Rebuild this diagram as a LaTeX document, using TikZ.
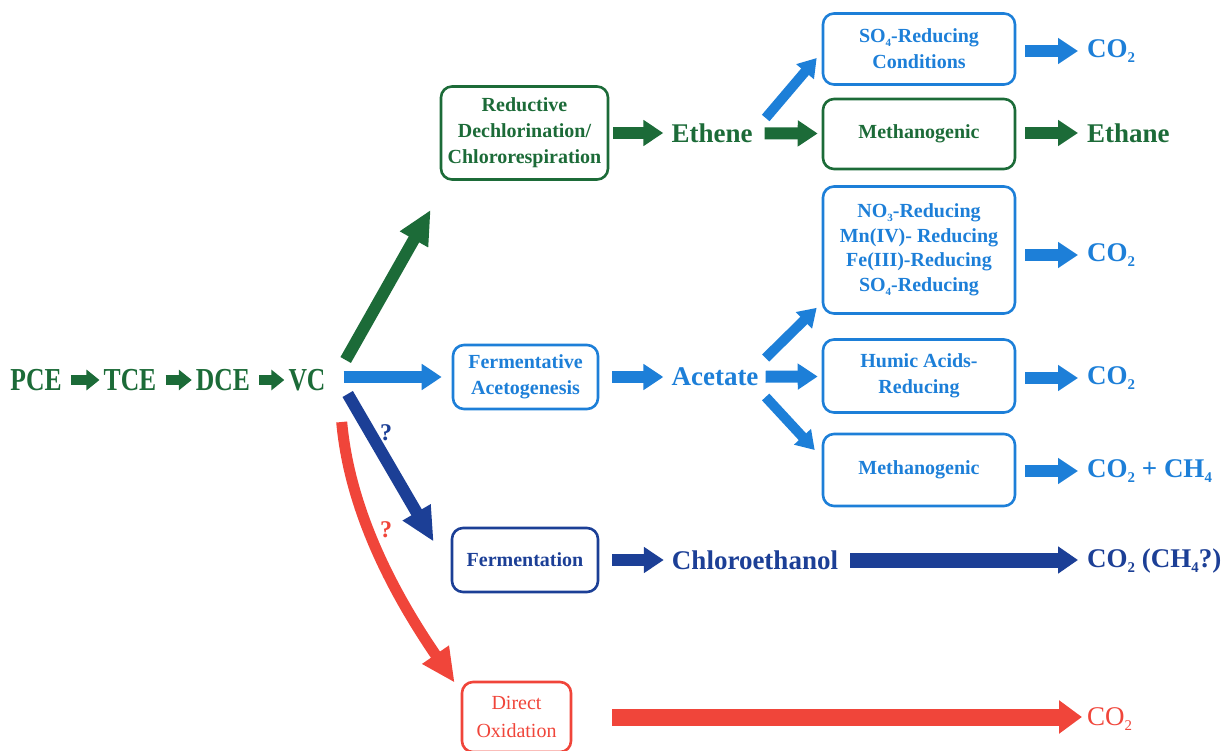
\documentclass[tikz,border=0pt]{standalone}
\usepackage{fontspec}
\setmainfont{Liberation Serif}
\newfontfamily\chainfont[FakeStretch=0.8]{Liberation Serif}
\usetikzlibrary{arrows.meta}
\definecolor{dgreen}{HTML}{1C6B38}
\definecolor{mblue}{HTML}{1D7FD8}
\definecolor{navyb}{HTML}{1C3F96}
\definecolor{oxred}{HTML}{F0453A}
\newcommand\chemsub[1]{\raisebox{-0.4ex}{\scalebox{0.55}{#1}}}
\tikzset{
  procbox/.style={draw,line width=2.6pt,rounded corners=11pt,align=center,inner sep=0pt,font=\bfseries\fontsize{20}{26}\selectfont},
  chem/.style={inner sep=0pt,font=\bfseries\fontsize{27}{30}\selectfont},
  chainlbl/.style={inner sep=0pt,text=dgreen,font=\chainfont\bfseries\fontsize{32}{34}\selectfont},
  qmark/.style={inner sep=0pt,font=\bfseries\fontsize{24}{26}\selectfont},
  tinyarr/.style={line width=10pt,-{Triangle[length=13pt,width=20pt]}},
  midarr/.style={line width=12pt,-{Triangle[length=20pt,width=25pt]}},
  slimarr/.style={line width=10pt,-{Triangle[length=18pt,width=22pt]}},
  vcarr/.style={line width=12pt,-{Triangle[length=34pt,width=30pt]}},
  longarr/.style={line width=15pt,-{Triangle[length=20pt,width=26pt]}},
}
\begin{document}
\begin{tikzpicture}[x=1pt,y=-1pt]
  \useasboundingbox (0,0) rectangle (1221,751);
  \node[chainlbl] (pce) at (36,380) {PCE};
  \node[chainlbl] (tce) at (130,380) {TCE};
  \node[chainlbl] (dce) at (223,380) {DCE};
  \node[chainlbl] (vc) at (307,380) {VC};
  \foreach \a/\b in {pce/tce,tce/dce,dce/vc}
    \draw[tinyarr,dgreen,shorten <=9pt,shorten >=4pt] (\a) -- (\b);

  \node[procbox,dgreen,minimum width=167pt,minimum height=93pt] (reduct) at (524.5,133) {Reductive\\Dechlorination/\\Chlororespiration};
  \node[procbox,mblue,minimum width=145pt,minimum height=64pt] (fa) at (525.5,377) {Fermentative\\Acetogenesis};
  \node[procbox,navyb,minimum width=146pt,minimum height=64pt] (ferm) at (525,560) {Fermentation};
  \node[procbox,oxred,minimum width=109pt,minimum height=70pt,font=\fontsize{20}{28}\selectfont] (oxid) at (516.5,717) {Direct\\Oxidation};

  \node[chem,dgreen] (ethene) at (712,133) {Ethene};
  \node[chem,mblue] (acetate) at (715,377) {Acetate};
  \node[chem,navyb] (chloro) at (755,560) {Chloroethanol};

  \node[procbox,mblue,minimum width=192pt,minimum height=71pt] (so4c) at (919,49) {SO\chemsub{4}-Reducing\\Conditions};
  \node[procbox,dgreen,minimum width=192pt,minimum height=70pt] (methg) at (919,134) {Methanogenic};
  \node[procbox,mblue,minimum width=192pt,minimum height=127pt,font=\bfseries\fontsize{20}{24.5}\selectfont] (multi) at (919,250) {NO\chemsub{3}-Reducing\\Mn(IV)- Reducing\\Fe(III)-Reducing\\SO\chemsub{4}-Reducing};
  \node[procbox,mblue,minimum width=192pt,minimum height=73pt] (humic) at (919,376) {Humic Acids-\\Reducing};
  \node[procbox,mblue,minimum width=192pt,minimum height=72pt] (methb) at (919,470) {Methanogenic};

  \node[chem,mblue,anchor=west] (co2a) at (1087,51) {CO\chemsub{2}};
  \node[chem,dgreen,anchor=west] (ethane) at (1087,133) {Ethane};
  \node[chem,mblue,anchor=west] (co2b) at (1087,255) {CO\chemsub{2}};
  \node[chem,mblue,anchor=west] (co2c) at (1087,378) {CO\chemsub{2}};
  \node[chem,mblue,anchor=west] (co2d) at (1087,471) {CO\chemsub{2} + CH\chemsub{4}};
  \node[chem,navyb,anchor=west] (co2e) at (1087,561) {CO\chemsub{2} (CH\chemsub{4}?)};
  \node[chem,oxred,anchor=west,font=\fontsize{27}{30}\selectfont] (co2f) at (1087,719) {CO\chemsub{2}};

  \node[qmark,navyb] (qnavy) at (386,433) {?};
  \node[qmark,oxred] (qred) at (386,530) {?};

  \draw[vcarr,dgreen] ([xshift=20pt,yshift=20pt]vc.east) -- ([xshift=-9pt,yshift=-29pt]reduct.south west);
  \draw[midarr,mblue] ([xshift=18pt,yshift=3pt]vc.east) -- ([xshift=-10pt]fa.west);
  \draw[vcarr,navyb] ([xshift=22pt,yshift=-14pt]vc.east) -- ([xshift=-17pt,yshift=-15pt]ferm.north west);
  \draw[vcarr,oxred,line width=11pt] ([xshift=16pt,yshift=-42pt]vc.east) .. controls (350,515) and (398,600) .. ([xshift=-6pt,yshift=-2pt]oxid.north west);

  \draw[midarr,dgreen,shorten <=4pt,shorten >=8pt] (reduct) -- (ethene);
  \draw[midarr,mblue,shorten <=13pt,shorten >=8pt] (fa) -- (acetate);
  \draw[midarr,navyb,shorten <=13pt,shorten >=8pt] (ferm) -- (chloro);
  \draw[longarr,navyb,shorten <=12pt,shorten >=9pt] (chloro) -- (chloro -| co2e.west);
  \draw[longarr,oxred,line width=17pt,-{Triangle[length=23pt,width=32pt]},shorten <=40pt,shorten >=5pt] (oxid) -- (oxid -| co2f.west);

  \draw[midarr,dgreen,shorten <=12pt,shorten >=4pt] (ethene) -- (methg);
  \draw[slimarr,mblue] ([xshift=13pt,yshift=15pt]ethene.east) -- ([xshift=-5pt,yshift=-9pt]so4c.west);
  \draw[midarr,mblue,shorten <=7pt,shorten >=4pt] (acetate) -- (humic);
  \draw[slimarr,mblue] ([xshift=7pt,yshift=19pt]acetate.east) -- ([xshift=-5pt,yshift=7pt]multi.south west);
  \draw[slimarr,mblue] ([xshift=7pt,yshift=-20pt]acetate.east) -- ([xshift=-7pt,yshift=20pt]methb.west);

  \foreach \b/\l/\c in {so4c/co2a/mblue,methg/ethane/dgreen,multi/co2b/mblue,humic/co2c/mblue,methb/co2d/mblue}
    \draw[midarr,\c,shorten <=9pt,shorten >=9pt] (\b.east |- \l) -- (\l);
\end{tikzpicture}
\end{document}
